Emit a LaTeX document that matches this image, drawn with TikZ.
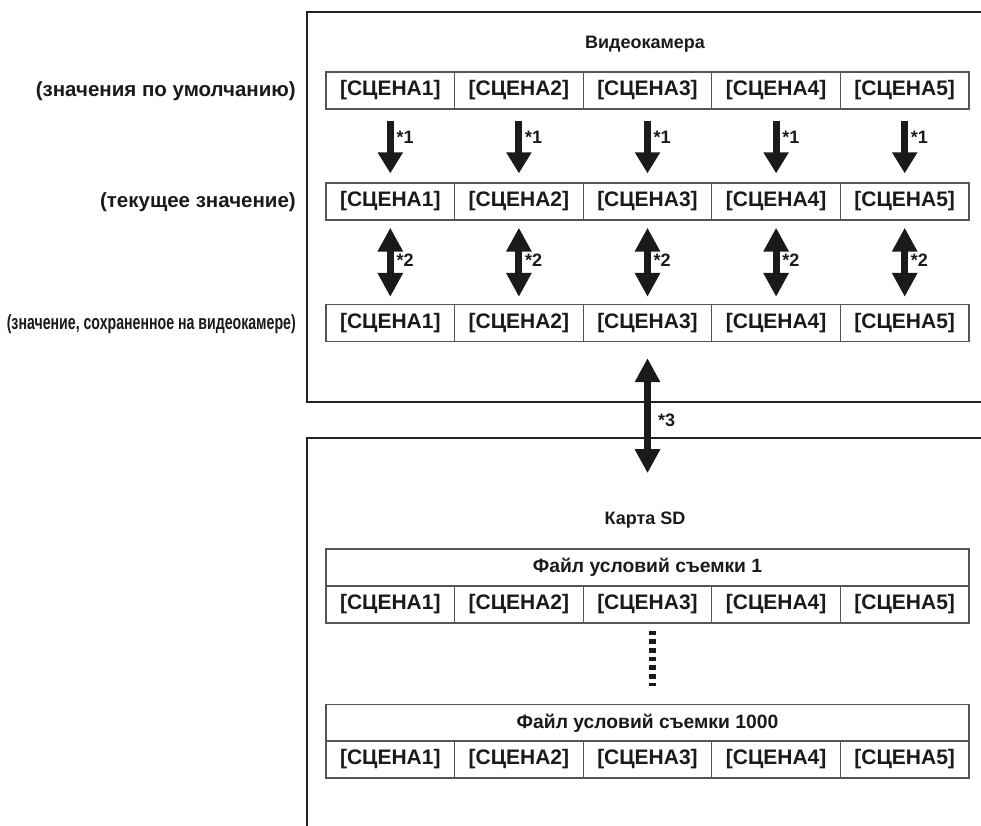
\documentclass[tikz,border=0pt]{standalone}
\usepackage{fontspec}
\setmainfont{Liberation Sans}
\newfontfamily\narrowfont[FakeStretch=0.69]{Liberation Sans}
\usetikzlibrary{arrows.meta,calc}
\definecolor{framec}{HTML}{222222}
\definecolor{cellc}{HTML}{555555}
\definecolor{txt}{HTML}{1A1A1A}
\tikzset{
  cellbox/.style={draw=cellc, line width=1.3pt, minimum width=128.6pt, minimum height=37pt, inner sep=0pt,
     font=\fontsize{21}{24}\selectfont\bfseries, text=txt},
  headbox/.style={draw=cellc, line width=1.3pt, minimum width=643pt, minimum height=37pt, inner sep=0pt,
     font=\fontsize{19.3}{22}\selectfont\bfseries, text=txt},
  titletext/.style={font=\fontsize{18}{22}\selectfont\bfseries, text=txt, inner sep=0pt},
  sidetext/.style={font=\fontsize{20.5}{24}\selectfont\bfseries, text=txt, inner sep=0pt, anchor=east},
  frameline/.style={draw=framec, line width=2.2pt},
  downarrow/.style={draw=txt, line width=7pt, -{Triangle[length=21pt,width=24pt]}},
  bothway/.style={draw=txt, line width=7pt, {Triangle[length=24pt,width=24pt]}-{Triangle[length=24pt,width=24pt]}},
  steplabel/.style={font=\fontsize{18}{22}\selectfont\bfseries, text=txt, inner sep=0pt},
  dotline/.style={draw=txt, line width=7pt, dash pattern=on 4.5pt off 4.2pt}
}
\begin{document}
\begin{tikzpicture}[x=1pt,y=-1pt]
\useasboundingbox (0,0) rectangle (981,825);
% frames
\draw[frameline] (990,12) -- (307,12) -- (307,402) -- (990,402);
\draw[frameline] (990,438) -- (307,438) -- (307,830);
% titles
\node[titletext] (cam) at (645,44) {Видеокамера};
\node[titletext] (sd) at (645,520) {Карта SD};
% side labels
\node[sidetext] (l1) at (296,91) {(значения по умолчанию)};
\node[sidetext] (l2) at (296,202) {(текущее значение)};
\node[sidetext, font=\fontsize{20.5}{24}\selectfont\narrowfont\bfseries] (l3) at (296,324) {(значение, сохраненное на видеокамере)};
% camera rows
\foreach \r/\y in {1/90.5, 2/201.5, 3/323} {
  \foreach \c in {1,...,5} {
    \node[cellbox] (r\r-\c) at ({326+(\c-0.5)*128.6},\y) {[СЦЕНА\c]};
  }
}
% SD tables
\node[headbox] (h1) at (647.5,567.5) {Файл условий съемки 1};
\node[headbox] (h2) at (647.5,723) {Файл условий съемки 1000};
\foreach \c in {1,...,5} {
  \node[cellbox] (s1-\c) at ({326+(\c-0.5)*128.6},604.5) {[СЦЕНА\c]};
  \node[cellbox] (s2-\c) at ({326+(\c-0.5)*128.6},759.5) {[СЦЕНА\c]};
}
% arrows
\foreach \c in {1,...,5} {
  \draw[downarrow, shorten <=11pt, shorten >=9pt] (r1-\c.south) -- (r2-\c.north);
  \node[steplabel, anchor=west] (a1-\c) at ($(r1-\c.south)+(6,28)$) {*1};
  \draw[bothway, shorten <=7pt, shorten >=7pt] (r2-\c.south) -- (r3-\c.north);
  \node[steplabel, anchor=west] (a2-\c) at ($(r2-\c.south)+(6,40)$) {*2};
}
\coordinate (sdin) at ($(r3-3.south)+(0,131)$);
\draw[bothway, shorten <=16pt] (r3-3.south) -- (sdin);
\node[steplabel, anchor=west] (a3) at (658,420) {*3};
% ellipsis
\draw[dotline, shorten <=7pt, shorten >=18pt] ($(s1-3.south)+(4.5,0)$) -- ($(h2.north)+(4.5,0)$);
\end{tikzpicture}
\end{document}
